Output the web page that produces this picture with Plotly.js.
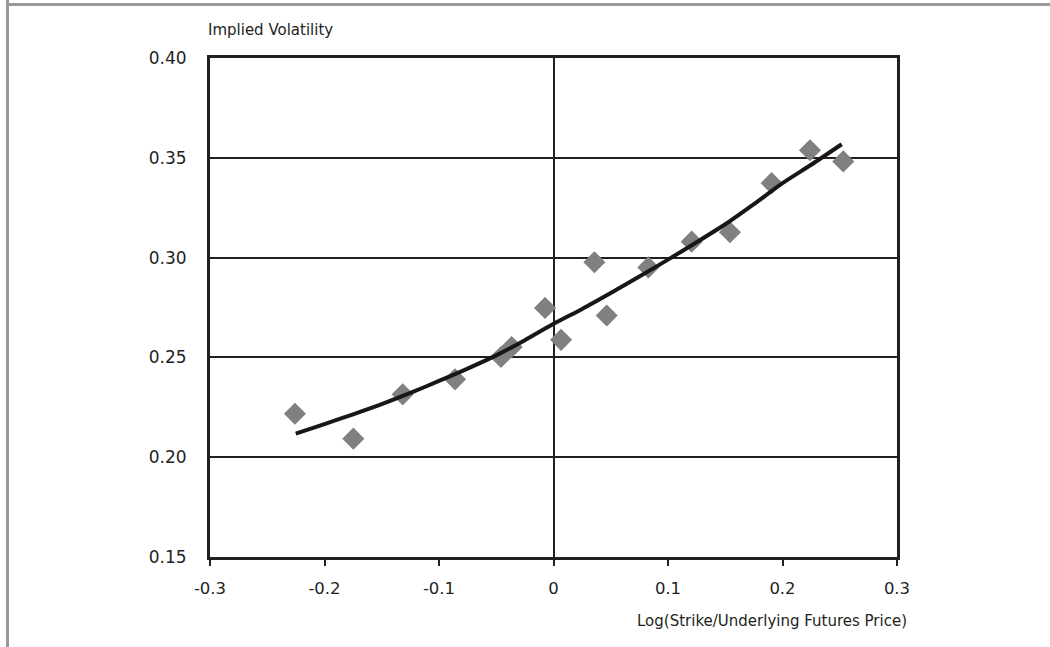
<!DOCTYPE html>
<html>
<head>
<meta charset="utf-8">
<script src="https://cdn.plot.ly/plotly-3.0.1.min.js"></script>
<style>
  html, body { margin: 0; padding: 0; background: #fff; }
  #frameTop { position: absolute; left: 6px; top: 3px; width: 1044px; height: 3px; background: #999999; }
  #frameLeft { position: absolute; left: 6px; top: 0px; width: 3px; height: 647px; background: #999999; }
  #chart { position: absolute; left: 0; top: 0; width: 1050px; height: 647px; }
</style>
</head>
<body>
<div id="chart"></div>
<div id="frameTop"></div>
<div id="frameLeft"></div>
<script>
// Observed implied volatilities
const logMoneyness = [-0.2258, -0.1748, -0.1317, -0.0860, -0.0459, -0.0365, -0.0074, 0.0066, 0.0357, 0.0465, 0.0828, 0.1207, 0.1541, 0.1905, 0.2240, 0.2531];
const impliedVol   = [0.2218, 0.2093, 0.2315, 0.2390, 0.2502, 0.2552, 0.2748, 0.2588, 0.2977, 0.2710, 0.2951, 0.3080, 0.3127, 0.3373, 0.3538, 0.3482];

// Fitted smile curve
const fitX = [-0.2251, -0.2, -0.175, -0.15, -0.125, -0.1, -0.075, -0.05, -0.025, 0, 0.025, 0.05, 0.075, 0.1, 0.125, 0.15, 0.175, 0.2, 0.225, 0.2517];
const fitY = [0.2118, 0.2166, 0.2215, 0.2266, 0.2322, 0.2382, 0.2444, 0.2510, 0.2586, 0.2668, 0.2743, 0.2823, 0.2905, 0.2990, 0.3077, 0.3167, 0.3268, 0.3373, 0.3465, 0.3568];

const xTicks = [-0.3, -0.2, -0.1, 0, 0.1, 0.2, 0.3];
const xTickText = ['-0.3', '-0.2', '-0.1', '0', '0.1', '0.2', '0.3'];
const yTicks = [0.15, 0.20, 0.25, 0.30, 0.35, 0.40];
const yTickText = ['0.15', '0.20', '0.25', '0.30', '0.35', '0.40'];

const yTitle = 'Implied Volatility';
const xTitle = 'Log(Strike/Underlying Futures Price)';

const font = 'DejaVu Sans, Verdana, sans-serif';
const ink = '#231f20';

const traces = [
  {
    x: logMoneyness, y: impliedVol, type: 'scatter', mode: 'markers',
    marker: { symbol: 'diamond', size: 17, color: '#808080', line: { width: 0 } },
    hoverinfo: 'x+y'
  },
  {
    x: fitX, y: fitY, type: 'scatter', mode: 'lines',
    line: { color: '#1a1614', width: 4, shape: 'spline', smoothing: 0.6 },
    hoverinfo: 'x+y'
  }
];

const layout = {
  width: 1050, height: 647,
  margin: { l: 210, r: 152.5, t: 57.5, b: 90 },
  paper_bgcolor: 'rgba(0,0,0,0)', plot_bgcolor: '#ffffff',
  showlegend: false,
  font: { family: font, color: '#231f20', size: 16 },
  xaxis: {
    range: [-0.3, 0.3], tickvals: xTicks, ticktext: xTickText,
    showgrid: false, zeroline: true, zerolinecolor: ink, zerolinewidth: 2,
    showline: true, linecolor: ink, linewidth: 3, mirror: true,
    ticks: 'outside', ticklen: 6, tickwidth: 2, tickcolor: ink,
    ticklabelstandoff: 8,
    tickfont: { family: font, size: 16.5, color: '#231f20' }
  },
  yaxis: {
    range: [0.15, 0.40], tickvals: yTicks, ticktext: yTickText,
    showgrid: true, gridcolor: ink, gridwidth: 2, zeroline: false,
    showline: true, linecolor: ink, linewidth: 3, mirror: true,
    ticks: '', ticklabelstandoff: 17,
    tickfont: { family: font, size: 17, color: '#231f20' }
  },
  annotations: [
    { text: yTitle, xref: 'paper', yref: 'paper', x: 0, y: 1, xanchor: 'left', yanchor: 'bottom',
      xshift: -4, yshift: 17, showarrow: false, font: { family: font, size: 15, color: '#231f20' } },
    { text: xTitle, xref: 'paper', yref: 'paper', x: 1, y: 0, xanchor: 'right', yanchor: 'top',
      xshift: 12, yshift: -53, showarrow: false, font: { family: font, size: 15, color: '#231f20' } }
  ]
};

Plotly.newPlot('chart', traces, layout, { displayModeBar: false, staticPlot: true });
</script>
</body>
</html>
